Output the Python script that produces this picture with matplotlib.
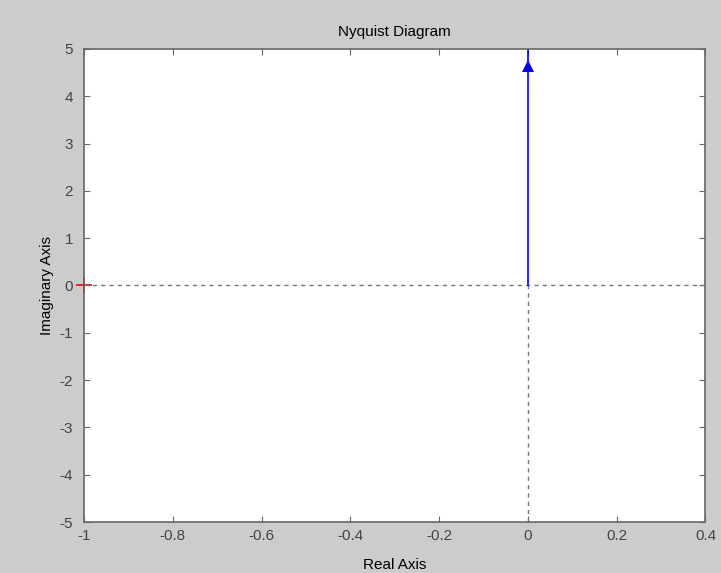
import numpy as np
import matplotlib.pyplot as plt

# Nyquist response (real / imaginary parts) and the critical point
re_part = [0.0, 0.0]
im_part = [0.0, 5.0]
arrow_at = 4.65
crit_point = (-1.0, 0.0)

x_ticks = [-1, -0.8, -0.6, -0.4, -0.2, 0, 0.2, 0.4]
x_labels = ['-1', '-0.8', '-0.6', '-0.4', '-0.2', '0', '0.2', '0.4']
y_ticks = [-5, -4, -3, -2, -1, 0, 1, 2, 3, 4, 5]
y_labels = ['-5', '-4', '-3', '-2', '-1', '0', '1', '2', '3', '4', '5']

plt.rcParams['font.family'] = ['Liberation Sans', 'DejaVu Sans']
plt.rcParams['font.size'] = 11

fig = plt.figure(figsize=(7.21, 5.73), dpi=100, facecolor='#cccccc')
ax = fig.add_axes([0.1165, 0.089, 0.862, 0.8255])

# zero axes
ax.axhline(0, color='#777777', ls=(0, (3, 3)), lw=1)
ax.plot([0, 0], [-5, 0], color='#777777', ls=(0, (3, 3)), lw=1)

# response curve with direction arrow
ax.plot(re_part, im_part, color='#0000ff', lw=1.2)
ax.plot(re_part[0], arrow_at, marker='^', color='#0000ff', ms=9, mew=0)

# critical point
ax.plot(*crit_point, marker='+', color='red', ms=11, mew=1.2,
        clip_on=False, zorder=1.5)

ax.set_xlim(-1, 0.4)
ax.set_ylim(-5, 5)
ax.set_xticks(x_ticks)
ax.set_xticklabels(x_labels)
ax.set_yticks(y_ticks)
ax.set_yticklabels(y_labels)
ax.tick_params(direction='in', top=True, right=True, length=4,
               color='#666666', labelcolor='#444444', labelsize=11)
ax.tick_params(axis='y', pad=8)
ax.tick_params(axis='x', pad=5)
for s in ax.spines.values():
    s.set_color('#666666')
    s.set_linewidth(1.2)
    s.set_zorder(3)

ax.set_title('Nyquist Diagram', fontsize=11, pad=9)
ax.set_xlabel('Real Axis', fontsize=11, labelpad=11)
ax.set_ylabel('Imaginary Axis', fontsize=11, labelpad=4)

fig.savefig('out.png', dpi=100, facecolor=fig.get_facecolor())
